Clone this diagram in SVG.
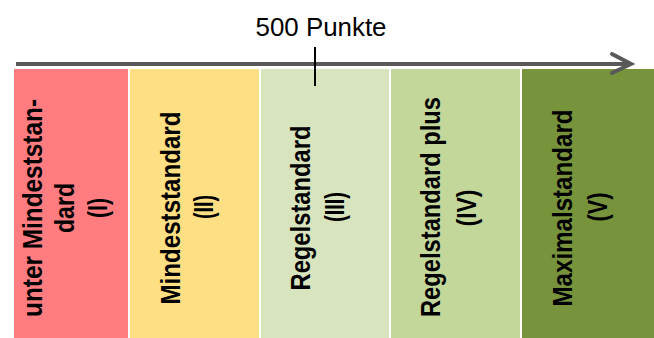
<svg xmlns="http://www.w3.org/2000/svg" width="654" height="338" viewBox="0 0 654 338">
<style>
.box{stroke:none}
.lbl{font-family:"Liberation Sans",Arial,sans-serif;font-weight:bold;font-size:27px;fill:#000;text-anchor:middle}
.title{font-family:"Liberation Sans",Arial,sans-serif;font-size:26px;fill:#000;text-anchor:middle}
.axis{stroke:#595959;stroke-width:4;fill:none}
</style>
<rect width="654" height="338" fill="#ffffff"/>
<g id="level1">
<rect class="box" x="14" y="69" width="114" height="269" fill="#FF7C80"/>
<g transform="rotate(-90 42 208)"><text class="lbl" x="42" y="208" textLength="218" lengthAdjust="spacingAndGlyphs">unter Mindeststan-</text></g>
<g transform="rotate(-90 74 208)"><text class="lbl" x="74" y="208" textLength="50" lengthAdjust="spacingAndGlyphs">dard</text></g>
<g transform="rotate(-90 107 208)"><text class="lbl" x="107" y="208" textLength="20" lengthAdjust="spacingAndGlyphs">(I)</text></g>
</g>
<g id="level2">
<rect class="box" x="130" y="69" width="129" height="269" fill="#FFDF83"/>
<g transform="rotate(-90 180 208)"><text class="lbl" x="180" y="208" textLength="193" lengthAdjust="spacingAndGlyphs">Mindeststandard</text></g>
<g transform="rotate(-90 213 207)"><text class="lbl" x="213" y="207" textLength="24" lengthAdjust="spacingAndGlyphs">(II)</text></g>
</g>
<g id="level3">
<rect class="box" x="261" y="69" width="128" height="269" fill="#D7E4BD"/>
<g transform="rotate(-90 310 208)"><text class="lbl" x="310" y="208" textLength="165" lengthAdjust="spacingAndGlyphs">Regelstandard</text></g>
<g transform="rotate(-90 344 207)"><text class="lbl" x="344" y="207" textLength="30" lengthAdjust="spacingAndGlyphs">(III)</text></g>
</g>
<g id="level4">
<rect class="box" x="391" y="69" width="129" height="269" fill="#C4D79B"/>
<g transform="rotate(-90 440 207)"><text class="lbl" x="440" y="207" textLength="220" lengthAdjust="spacingAndGlyphs">Regelstandard plus</text></g>
<g transform="rotate(-90 476 208)"><text class="lbl" x="476" y="208" textLength="37" lengthAdjust="spacingAndGlyphs">(IV)</text></g>
</g>
<g id="level5">
<rect class="box" x="522" y="69" width="132" height="269" fill="#77933C"/>
<g transform="rotate(-90 572 208)"><text class="lbl" x="572" y="208" textLength="197" lengthAdjust="spacingAndGlyphs">Maximalstandard</text></g>
<g transform="rotate(-90 607 207)"><text class="lbl" x="607" y="207" textLength="29" lengthAdjust="spacingAndGlyphs">(V)</text></g>
</g>
<g id="connectors">
<line class="axis" x1="16" y1="64" x2="630" y2="64"/>
<polyline class="axis" points="612,54 631,64 612,73" stroke-linecap="round" stroke-linejoin="miter" stroke-width="4.5"/>
<line x1="315" y1="47" x2="315" y2="86" stroke="#000" stroke-width="2"/>
</g>
<g id="marker-label">
<text class="title" x="321" y="36" textLength="131" lengthAdjust="spacingAndGlyphs">500 Punkte</text>
</g>
</svg>
